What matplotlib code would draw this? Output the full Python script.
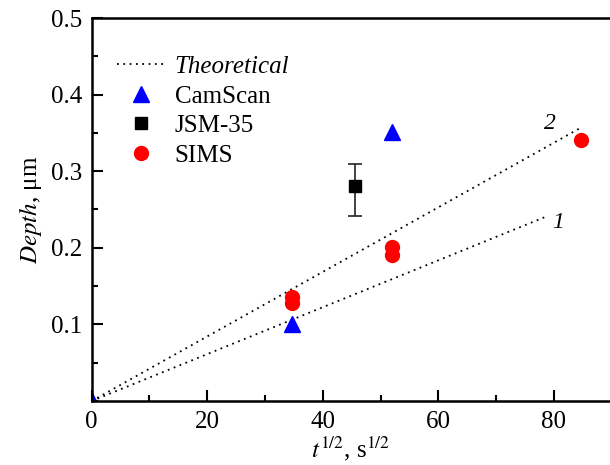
import numpy as np
import matplotlib
matplotlib.use("Agg")
import matplotlib.pyplot as plt
from matplotlib.ticker import MultipleLocator

plt.rcParams['font.family'] = ['Liberation Serif', 'DejaVu Serif']
plt.rcParams['mathtext.fontset'] = 'stix'

# datos
cam_x = [0.0, 34.6, 51.9]
cam_y = [0.0, 0.101, 0.351]
jsm_x = [45.6]
jsm_y = [0.281]
jsm_err_inf = [0.040]
jsm_err_sup = [0.029]
sims_x = [34.6, 34.6, 51.9, 51.9, 84.7]
sims_y = [0.136, 0.128, 0.201, 0.191, 0.341]
teo1_x = [0.0, 78.4]
teo1_y = [0.0, 0.240]
teo2_x = [0.0, 84.7]
teo2_y = [0.0, 0.357]

fig = plt.figure(figsize=(6.1, 4.65), dpi=100)
ax = fig.add_axes([91.7 / 610, (465 - 401) / 465, (610 - 91.7) / 610, (401 - 18) / 465])

# rectas teoricas (1 y 2)
l_teo, = ax.plot(teo2_x, teo2_y, linestyle=(0, (1, 2.5)), color='black', linewidth=1.3)
ax.plot(teo1_x, teo1_y, linestyle=(0, (1, 2.5)), color='black', linewidth=1.3)
l_cam, = ax.plot(cam_x, cam_y, linestyle='none', marker='^', color='blue', markersize=11)
ax.errorbar(jsm_x, jsm_y, yerr=[jsm_err_inf, jsm_err_sup], fmt='none', ecolor='#333333',
            capsize=5, elinewidth=1.3, capthick=1.3)
l_jsm, = ax.plot(jsm_x, jsm_y, linestyle='none', marker='s', color='black', markersize=8)
l_sims, = ax.plot(sims_x, sims_y, linestyle='none', marker='o', color='red', markersize=10)

ax.text(79.3, 0.362, '2', fontsize=17, style='italic', ha='center', va='center')
ax.text(80.8, 0.233, '1', fontsize=17, style='italic', ha='center', va='center')

ax.set_xlim(0, 89.7)
ax.set_ylim(0, 0.5)
ax.xaxis.set_minor_locator(MultipleLocator(10))
ax.yaxis.set_minor_locator(MultipleLocator(0.05))
ax.set_xticks([0, 20, 40, 60, 80])
ax.set_yticks([0.1, 0.2, 0.3, 0.4, 0.5])
ax.set_yticklabels(['0.1', '0.2', '0.3', '0.4', '0.5'])
ax.tick_params(which='both', direction='in', width=1.5, labelsize=18, top=False, right=False)
ax.tick_params(which='major', length=8, pad=7)
ax.tick_params(which='minor', length=4)
for s in ['left', 'bottom', 'top']:
    ax.spines[s].set_linewidth(1.8)
ax.spines['right'].set_visible(False)

ax.set_xlabel(r'$\mathit{t}^{1/2}$, s$^{1/2}$', fontsize=18, labelpad=1)
ax.set_ylabel(r'$\mathit{Depth}$, μm', fontsize=18, labelpad=5)

leg = ax.legend([l_teo, l_cam, l_jsm, l_sims], ['Theoretical', 'CamScan', 'JSM-35', 'SIMS'],
                loc='upper left', bbox_to_anchor=(0.03, 0.928), frameon=False, fontsize=18,
                handlelength=1.9, handletextpad=0.4, labelspacing=0.28, borderaxespad=0)
leg.get_texts()[0].set_style('italic')

fig.savefig('out.png', dpi=100)
